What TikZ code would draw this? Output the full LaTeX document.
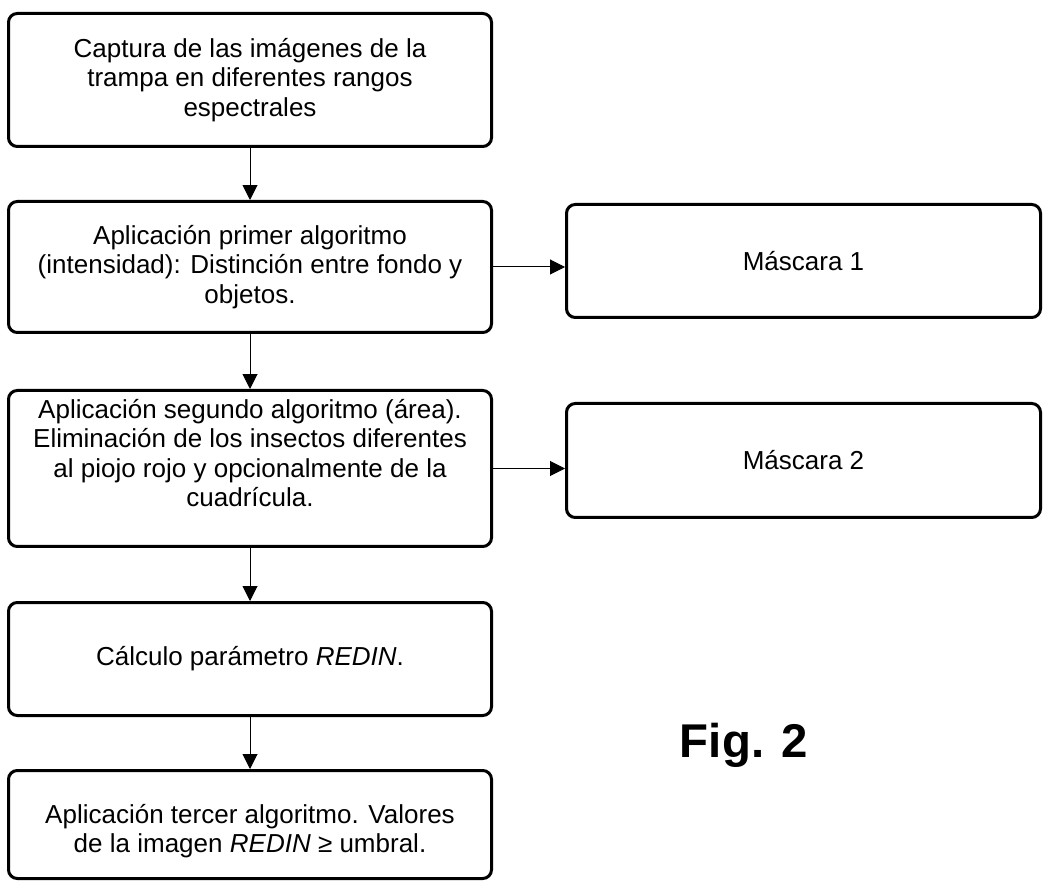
\documentclass[tikz,border=0pt]{standalone}
\usepackage{fontspec}
\setmainfont{Liberation Sans}
\usetikzlibrary{arrows.meta}

\begin{document}
\begin{tikzpicture}[
        stepbox/.style={draw, line width=0.075cm, rounded corners=0.22cm, align=center,
                minimum width=12.075cm, font=\fontsize{18.5}{21}\selectfont},
        maskbox/.style={stepbox, minimum width=11.85cm},
        flow/.style={line width=0.025cm, -{Triangle[length=0.37cm, width=0.37cm]}}
    ]
        \useasboundingbox (0,0) rectangle (26.075,22.05);
        \node[stepbox, minimum height=3.325cm] (captura) at (6.25,20.05)
                {Captura de las imágenes de la\\trampa en diferentes rangos\\espectrales};
        \node[stepbox, minimum height=3.275cm] (primer) at (6.25,15.375)
                {Aplicación primer algoritmo\\(intensidad): Distinción entre fondo y\\objetos.};
        \node[stepbox, minimum height=3.9cm] (segundo) at (6.25,10.3375)
                {Aplicación segundo algoritmo (área).\\Eliminación de los insectos diferentes\\al piojo rojo y opcionalmente de la\\cuadrícula.\rule[-0.78cm]{0pt}{0pt}};
        \node[stepbox, minimum height=2.825cm] (redin) at (6.25,5.575)
                {Cálculo parámetro \textit{REDIN}.};
        \node[stepbox, minimum height=2.7cm] (tercer) at (6.25,1.4375)
                {\rule{0pt}{0.8cm}Aplicación tercer algoritmo. Valores\\de la imagen \textit{REDIN} ≥ umbral.};

        \node[maskbox, minimum height=2.825cm] (mascara1) at (20.0875,15.525) {Máscara 1};
        \node[maskbox, minimum height=2.85cm] (mascara2) at (20.0875,10.5375) {Máscara 2};

        \node[font=\fontsize{33.7}{40}\selectfont\bfseries, anchor=base] (fig) at (18.6,3.125) {Fig. 2};

        \draw[flow] (captura) -- (primer);
        \draw[flow] (primer) -- (segundo);
        \draw[flow] (segundo) -- (redin);
        \draw[flow] (redin) -- (tercer);
        \draw[flow] (primer.east) -- (primer.east -| mascara1.west);
        \draw[flow] (segundo.east) -- (segundo.east -| mascara2.west);
    \end{tikzpicture}
\end{document}
